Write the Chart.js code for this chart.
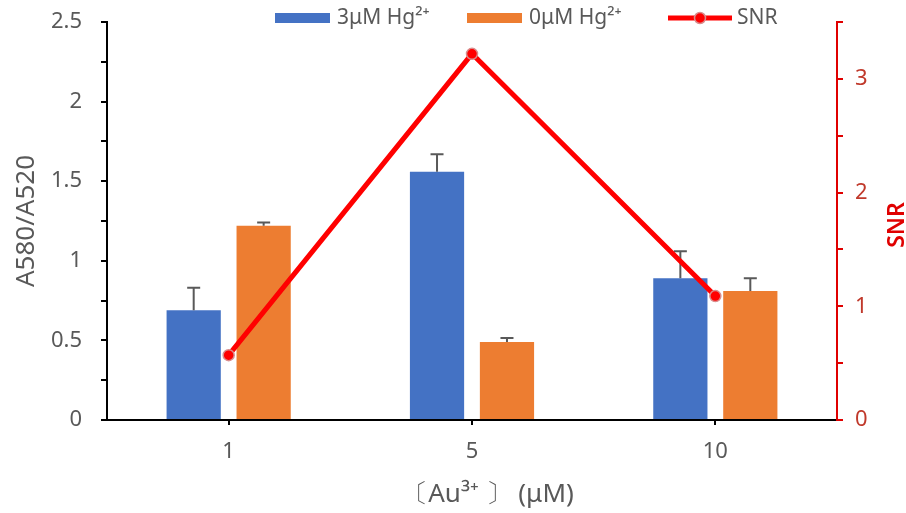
<!DOCTYPE html>
<html>
<head>
<meta charset="utf-8">
<script src="https://cdn.jsdelivr.net/npm/chart.js@4/dist/chart.umd.min.js"></script>
<style>
  html, body { margin: 0; padding: 0; background: #ffffff; }
  #wrap { width: 906px; height: 513px; }
</style>
</head>
<body>
<div id="wrap"><canvas id="chart" width="906" height="513"></canvas></div>
<script>
// Au3+ concentration groups (µM)
const categories = ['1', '5', '10'];

// A580/A520 ratio with 3 µM Hg2+ and its error
const hg3Values = [0.69, 1.56, 0.89];
const hg3Errors = [0.14, 0.11, 0.17];

// A580/A520 ratio without Hg2+ and its error
const hg0Values = [1.22, 0.49, 0.81];
const hg0Errors = [0.02, 0.025, 0.08];

// signal-to-noise ratio (right axis)
const snrValues = [0.57, 3.22, 1.09];

const seriesLabels = ['3μM Hg²⁺', '0μM Hg²⁺', 'SNR'];
const xTitle = '〔Au³⁺ 〕 (μM)';

const BLUE = '#4472C4';
const ORANGE = '#ED7D31';
const RED = '#FF0000';
const AXIS_RED = '#E00000';
const TEXT_GREY = '#595959';
const FONT = '"Noto Sans", "Open Sans", sans-serif';

// keep the vertical axes from reserving extra room above/below the plot
function fixVertical(width) {
  return scale => {
    scale.width = width;
    scale.paddingTop = 0;
    scale.paddingBottom = 0;
  };
}

// upper error whiskers, drawn right after each bar dataset (so the SNR line stays on top)
const errorBarPlugin = {
  id: 'errorBars',
  afterDatasetDraw(chart, args) {
    const ds = chart.data.datasets[args.index];
    if (!ds.errors) return;
    const meta = args.meta;
    const yScale = chart.scales[meta.yAxisID];
    const ctx = chart.ctx;
    ctx.save();
    ctx.strokeStyle = TEXT_GREY;
    ctx.lineWidth = 2;
    meta.data.forEach((bar, i) => {
      const yTop = yScale.getPixelForValue(ds.data[i]);
      const yEnd = yScale.getPixelForValue(ds.data[i] + ds.errors[i]);
      ctx.beginPath();
      ctx.moveTo(bar.x, yTop);
      ctx.lineTo(bar.x, yEnd);
      ctx.moveTo(bar.x - 6.5, yEnd);
      ctx.lineTo(bar.x + 6.5, yEnd);
      ctx.stroke();
    });
    ctx.restore();
  }
};

// legend row across the top, the x-axis title and the right-hand axis title (reads bottom to top)
const decorPlugin = {
  id: 'decor',
  afterDraw(chart) {
    const ctx = chart.ctx;
    const byLabel = l => chart.data.datasets.find(d => d.label === l);
    const blue = byLabel(seriesLabels[0]);
    const orange = byLabel(seriesLabels[1]);
    const snr = byLabel(seriesLabels[2]);
    ctx.save();
    ctx.font = '21px ' + FONT;
    ctx.textBaseline = 'middle';
    ctx.textAlign = 'left';
    const y = 18;
    // bar series boxes
    [[blue, 275], [orange, 467]].forEach(([ds, x]) => {
      ctx.fillStyle = ds.backgroundColor;
      ctx.fillRect(x, y - 5, 55, 10);
      ctx.fillStyle = TEXT_GREY;
      ctx.fillText(ds.label, x + 62, y);
    });
    // line series sample with marker
    const lx = 668;
    ctx.strokeStyle = snr.borderColor;
    ctx.lineWidth = 5;
    ctx.beginPath();
    ctx.moveTo(lx, y);
    ctx.lineTo(lx + 64, y);
    ctx.stroke();
    ctx.beginPath();
    ctx.arc(lx + 32, y, 5.5, 0, Math.PI * 2);
    ctx.fillStyle = snr.pointBackgroundColor;
    ctx.fill();
    ctx.lineWidth = 1.5;
    ctx.strokeStyle = snr.pointBorderColor;
    ctx.stroke();
    ctx.fillStyle = TEXT_GREY;
    ctx.fillText(snr.label, lx + 69, y);

    // x-axis title
    const area = chart.chartArea;
    ctx.textAlign = 'center';
    ctx.font = '26px ' + FONT;
    ctx.fillText(xTitle, (area.left + area.right) / 2 + 16, 495);

    // right axis title
    ctx.translate(897, (area.top + area.bottom) / 2 + 4);
    ctx.rotate(-Math.PI / 2);
    ctx.font = '600 23px ' + FONT;
    ctx.fillStyle = AXIS_RED;
    ctx.fillText('SNR', 0, 0);
    ctx.restore();
  }
};

new Chart(document.getElementById('chart'), {
  type: 'bar',
  data: {
    labels: categories,
    datasets: [
      {
        type: 'line',
        label: seriesLabels[2],
        data: snrValues,
        yAxisID: 'y1',
        order: 0,
        borderColor: RED,
        borderWidth: 5,
        backgroundColor: RED,
        pointBackgroundColor: RED,
        pointBorderColor: '#D98C8C',
        pointBorderWidth: 1.5,
        pointRadius: 5.5,
        tension: 0,
        fill: false
      },
      {
        label: seriesLabels[0],
        data: hg3Values,
        errors: hg3Errors,
        yAxisID: 'y',
        order: 1,
        backgroundColor: BLUE,
        categoryPercentage: 0.575,
        barPercentage: 0.775
      },
      {
        label: seriesLabels[1],
        data: hg0Values,
        errors: hg0Errors,
        yAxisID: 'y',
        order: 1,
        backgroundColor: ORANGE,
        categoryPercentage: 0.575,
        barPercentage: 0.775
      }
    ]
  },
  options: {
    responsive: false,
    animation: false,
    layout: { padding: { top: 22, left: 0, right: 0, bottom: 0 } },
    plugins: {
      legend: { display: false },
      tooltip: { enabled: false }
    },
    scales: {
      x: {
        afterFit(scale) { scale.height = 93; },
        grid: {
          offset: false,
          drawOnChartArea: false,
          drawTicks: true,
          tickLength: 5,
          color: '#000000',
          lineWidth: 2
        },
        border: { display: true, color: '#000000', width: 2 },
        ticks: {
          color: TEXT_GREY,
          font: { family: FONT, size: 22 },
          padding: 14
        }
      },
      y: {
        position: 'left',
        min: 0,
        max: 2.5,
        afterFit: fixVertical(107),
        grid: {
          drawOnChartArea: false,
          drawTicks: true,
          tickLength: 6,
          color: '#000000',
          lineWidth: 2
        },
        border: { display: true, color: '#000000', width: 2 },
        ticks: {
          stepSize: 0.25,
          color: TEXT_GREY,
          font: { family: FONT, size: 22 },
          padding: 19,
          callback(v) {
            return Math.abs(v * 2 - Math.round(v * 2)) < 1e-6 ? String(v) : '';
          }
        },
        title: {
          display: true,
          text: 'A580/A520',
          color: TEXT_GREY,
          font: { family: FONT, size: 26 },
          padding: { top: 11, bottom: 0 }
        }
      },
      y1: {
        position: 'right',
        min: 0,
        max: 3.5,
        afterFit: fixVertical(69),
        grid: {
          drawOnChartArea: false,
          drawTicks: true,
          tickLength: 6,
          color: AXIS_RED,
          lineWidth: 2
        },
        border: { display: true, color: AXIS_RED, width: 2 },
        ticks: {
          stepSize: 0.5,
          color: '#C0392B',
          font: { family: FONT, size: 22 },
          padding: 12,
          callback(v) {
            return Number.isInteger(v) ? String(v) : '';
          }
        }
      }
    }
  },
  plugins: [errorBarPlugin, decorPlugin]
});
</script>
</body>
</html>
